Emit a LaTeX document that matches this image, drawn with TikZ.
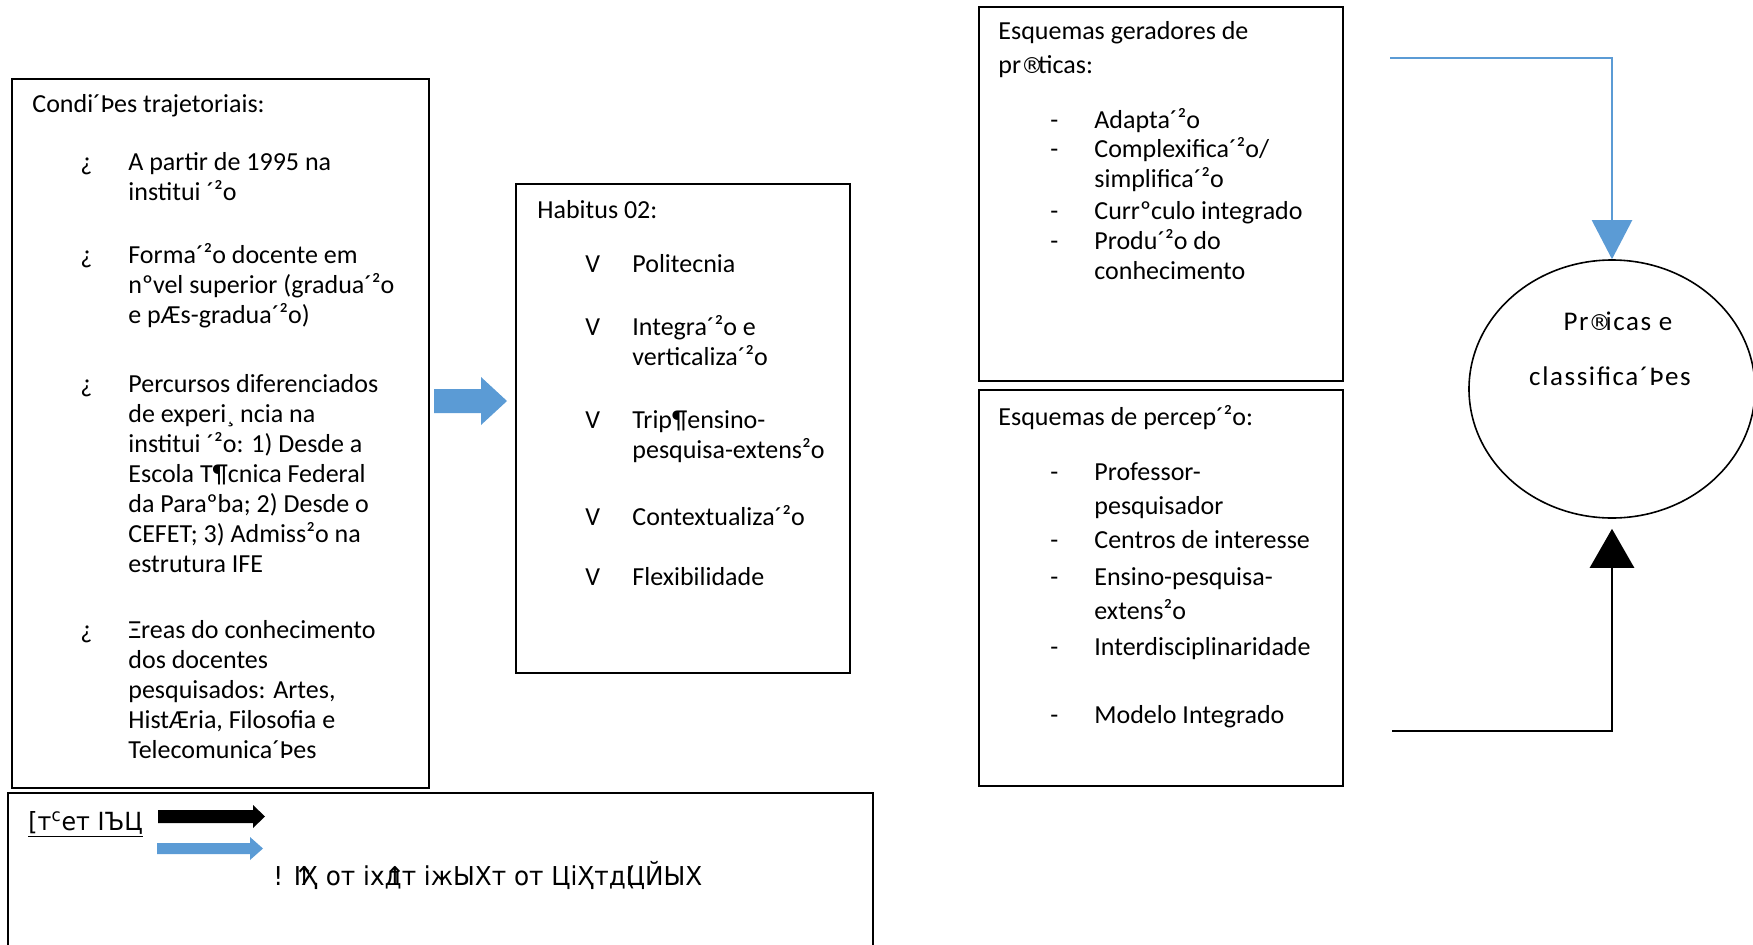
\documentclass[tikz,border=0pt]{standalone}
\usepackage{fontspec}
\setmainfont{Carlito}
\newfontfamily\garble[FakeStretch=0.95]{DejaVu Sans}
\newfontfamily\regfont{DejaVu Sans}
\newfontfamily\ellfont[LetterSpace=6]{Carlito}
\newcommand{\Reg}{{\regfont\fontsize{11}{13}\selectfont ®}\kern-2.5pt}
\usetikzlibrary{arrows.meta,shapes.geometric}
\definecolor{arrowblue}{HTML}{5B9BD5}
\tikzset{
  box/.style={draw, line width=0.8pt, anchor=north west, inner sep=0pt},
  txt/.style={anchor=north west, inner sep=0pt, align=left, font=\fontsize{13}{15}\selectfont},
  txtwide/.style={anchor=north west, inner sep=0pt, align=left, font=\fontsize{13}{17}\selectfont},
  blueconn/.style={draw=arrowblue, line width=1.1pt, -{Triangle[width=20pt,length=19.5pt]}},
  blackconn/.style={draw=black, line width=1.4pt, -{Triangle[width=22pt,length=19.5pt]}},
}
% box: name, x1, y1, x2, y2
\newcommand{\boxnode}[5]{\node[box, minimum width={(#4-#2)*0.5pt}, minimum height={(#5-#3)*0.5pt}] (#1) at (#2,#3) {};}
% text with 15pt skip: name, x, baseline, text   (strut height 10.5pt = 21px)
\newcommand{\tline}[4]{\node[txt] (#1) at (#2,{#3-21}) {\strut #4};}
% text with 17pt skip (strut height 11.9pt = 23.8px)
\newcommand{\wline}[4]{\node[txtwide] (#1) at (#2,{#3-23.8}) {\strut #4};}
% block arrow: x1, xhead, xtip, y, shaft half, head half, colour
\newcommand{\blkarrow}[7]{\fill[#7] ({#1},{#4-#5}) -- ({#2},{#4-#5}) -- ({#2},{#4-#6}) -- ({#3},{#4}) -- ({#2},{#4+#6}) -- ({#2},{#4+#5}) -- ({#1},{#4+#5}) -- cycle;}
\begin{document}
\begin{tikzpicture}[x=0.5pt,y=-0.5pt]
\useasboundingbox (0,0) rectangle (1753,944);
% boxes
\boxnode{cond}{11}{78}{428}{787}
\boxnode{hab}{515}{183}{849}{672}
\boxnode{eg}{978}{6}{1342}{380}
\boxnode{ep}{978}{389}{1342}{785}
\boxnode{leg}{7}{792}{872}{1010}
% left box
\tline{condt}{32}{112}{Condi´Þes trajetoriais:}
\tline{cb1}{80}{170}{¿}
\tline{cb2}{80}{263}{¿}
\tline{cb3}{80}{392}{¿}
\tline{cb4}{80}{638}{¿}
\tline{ci1}{128}{170}{A partir de 1995 na\\institui ´²o}
\tline{ci2}{128}{263}{Forma´²o docente em\\nºvel superior (gradua´²o\\e pÆs-gradua´²o)}
\tline{ci3}{128}{392}{Percursos diferenciados\\de experi¸ ncia na\\institui ´²o: 1) Desde a\\Escola T¶cnica Federal\\da Paraºba; 2) Desde o\\CEFET; 3) Admiss²o na\\estrutura IFE}
\tline{ci4}{128}{638}{Ξreas do conhecimento\\dos docentes\\pesquisados: Artes,\\HistÆria, Filosofia e\\Telecomunica´Þes}
% habitus box
\tline{habt}{537}{218}{Habitus 02:}
\tline{hv1}{585}{272}{V}
\tline{hv2}{585}{335}{V}
\tline{hv3}{585}{428}{V}
\tline{hv4}{585}{525}{V}
\tline{hv5}{585}{585}{V}
\tline{hi1}{632}{272}{Politecnia}
\tline{hi2}{632}{335}{Integra´²o e\\verticaliza´²o}
\tline{hi3}{632}{428}{Trip¶ensino-\\pesquisa-extens²o}
\tline{hi4}{632}{525}{Contextualiza´²o}
\tline{hi5}{632}{585}{Flexibilidade}
% esquemas geradores
\wline{egt}{998}{39}{Esquemas geradores de\\pr\Reg ticas:}
\tline{ed1}{1050}{128}{-}
\tline{ed2}{1050}{157}{-}
\tline{ed3}{1050}{219}{-}
\tline{ed4}{1050}{249}{-}
\tline{ei1}{1094}{128}{Adapta´²o}
\tline{ei2}{1094}{157}{Complexifica´²o/\\simplifica´²o}
\tline{ei3}{1094}{219}{Currºculo integrado}
\tline{ei4}{1094}{249}{Produ´²o do\\conhecimento}
% esquemas de percepcao
\tline{ept}{998}{425}{Esquemas de percep´²o:}
\tline{pd1}{1050}{480}{-}
\tline{pd2}{1050}{548}{-}
\tline{pd3}{1050}{585}{-}
\tline{pd4}{1050}{655}{-}
\tline{pd5}{1050}{723}{-}
\wline{pi1}{1094}{480}{Professor-\\pesquisador}
\wline{pi2}{1094}{548}{Centros de interesse}
\wline{pi3}{1094}{585}{Ensino-pesquisa-\\extens²o}
\wline{pi4}{1094}{655}{Interdisciplinaridade}
\wline{pi5}{1094}{723}{Modelo Integrado}
% ellipse
\node[ellipse, draw, line width=0.8pt, minimum width=143pt, minimum height=129pt, inner sep=0pt] (ell) at (1612,389) {};
\node[anchor=base, inner sep=0pt, font=\fontsize{13.5}{15}\ellfont] (ellt1) at (1618,330) {Pr\Reg icas e};
\node[anchor=base, inner sep=0pt, font=\fontsize{13.5}{15}\ellfont] (ellt2) at (1610,385) {classifica´Þes};
% connectors
\coordinate (bstart) at (1390,58);
\coordinate (kstart) at (1392,731);
\draw[blueconn] (bstart) -| (ell.north);
\draw[blackconn] (kstart) -| ([yshift=-5pt]ell.south);
% block arrow between boxes
\blkarrow{434}{481}{507}{401}{12}{24}{arrowblue}
% legend
\node[anchor=base west, inner sep=0pt, font=\fontsize{12.5}{15}\garble] (legl) at (28,830) {\underline{[т\textsuperscript{c}ет IЪЦ}};
\blkarrow{158}{253}{265}{816.5}{6.5}{11.5}{black}
\blkarrow{157}{250}{263}{848.5}{5.5}{11.5}{arrowblue}
\node[anchor=base west, inner sep=0pt, font=\fontsize{13}{15}\garble] (legt) at (273,885) {! \rlap{↑}IҲ от iх\rlap{↑}дт iжЫХт от ЦiҲтд\rlap{(}ЦЙЫХ};
\end{tikzpicture}
\end{document}
